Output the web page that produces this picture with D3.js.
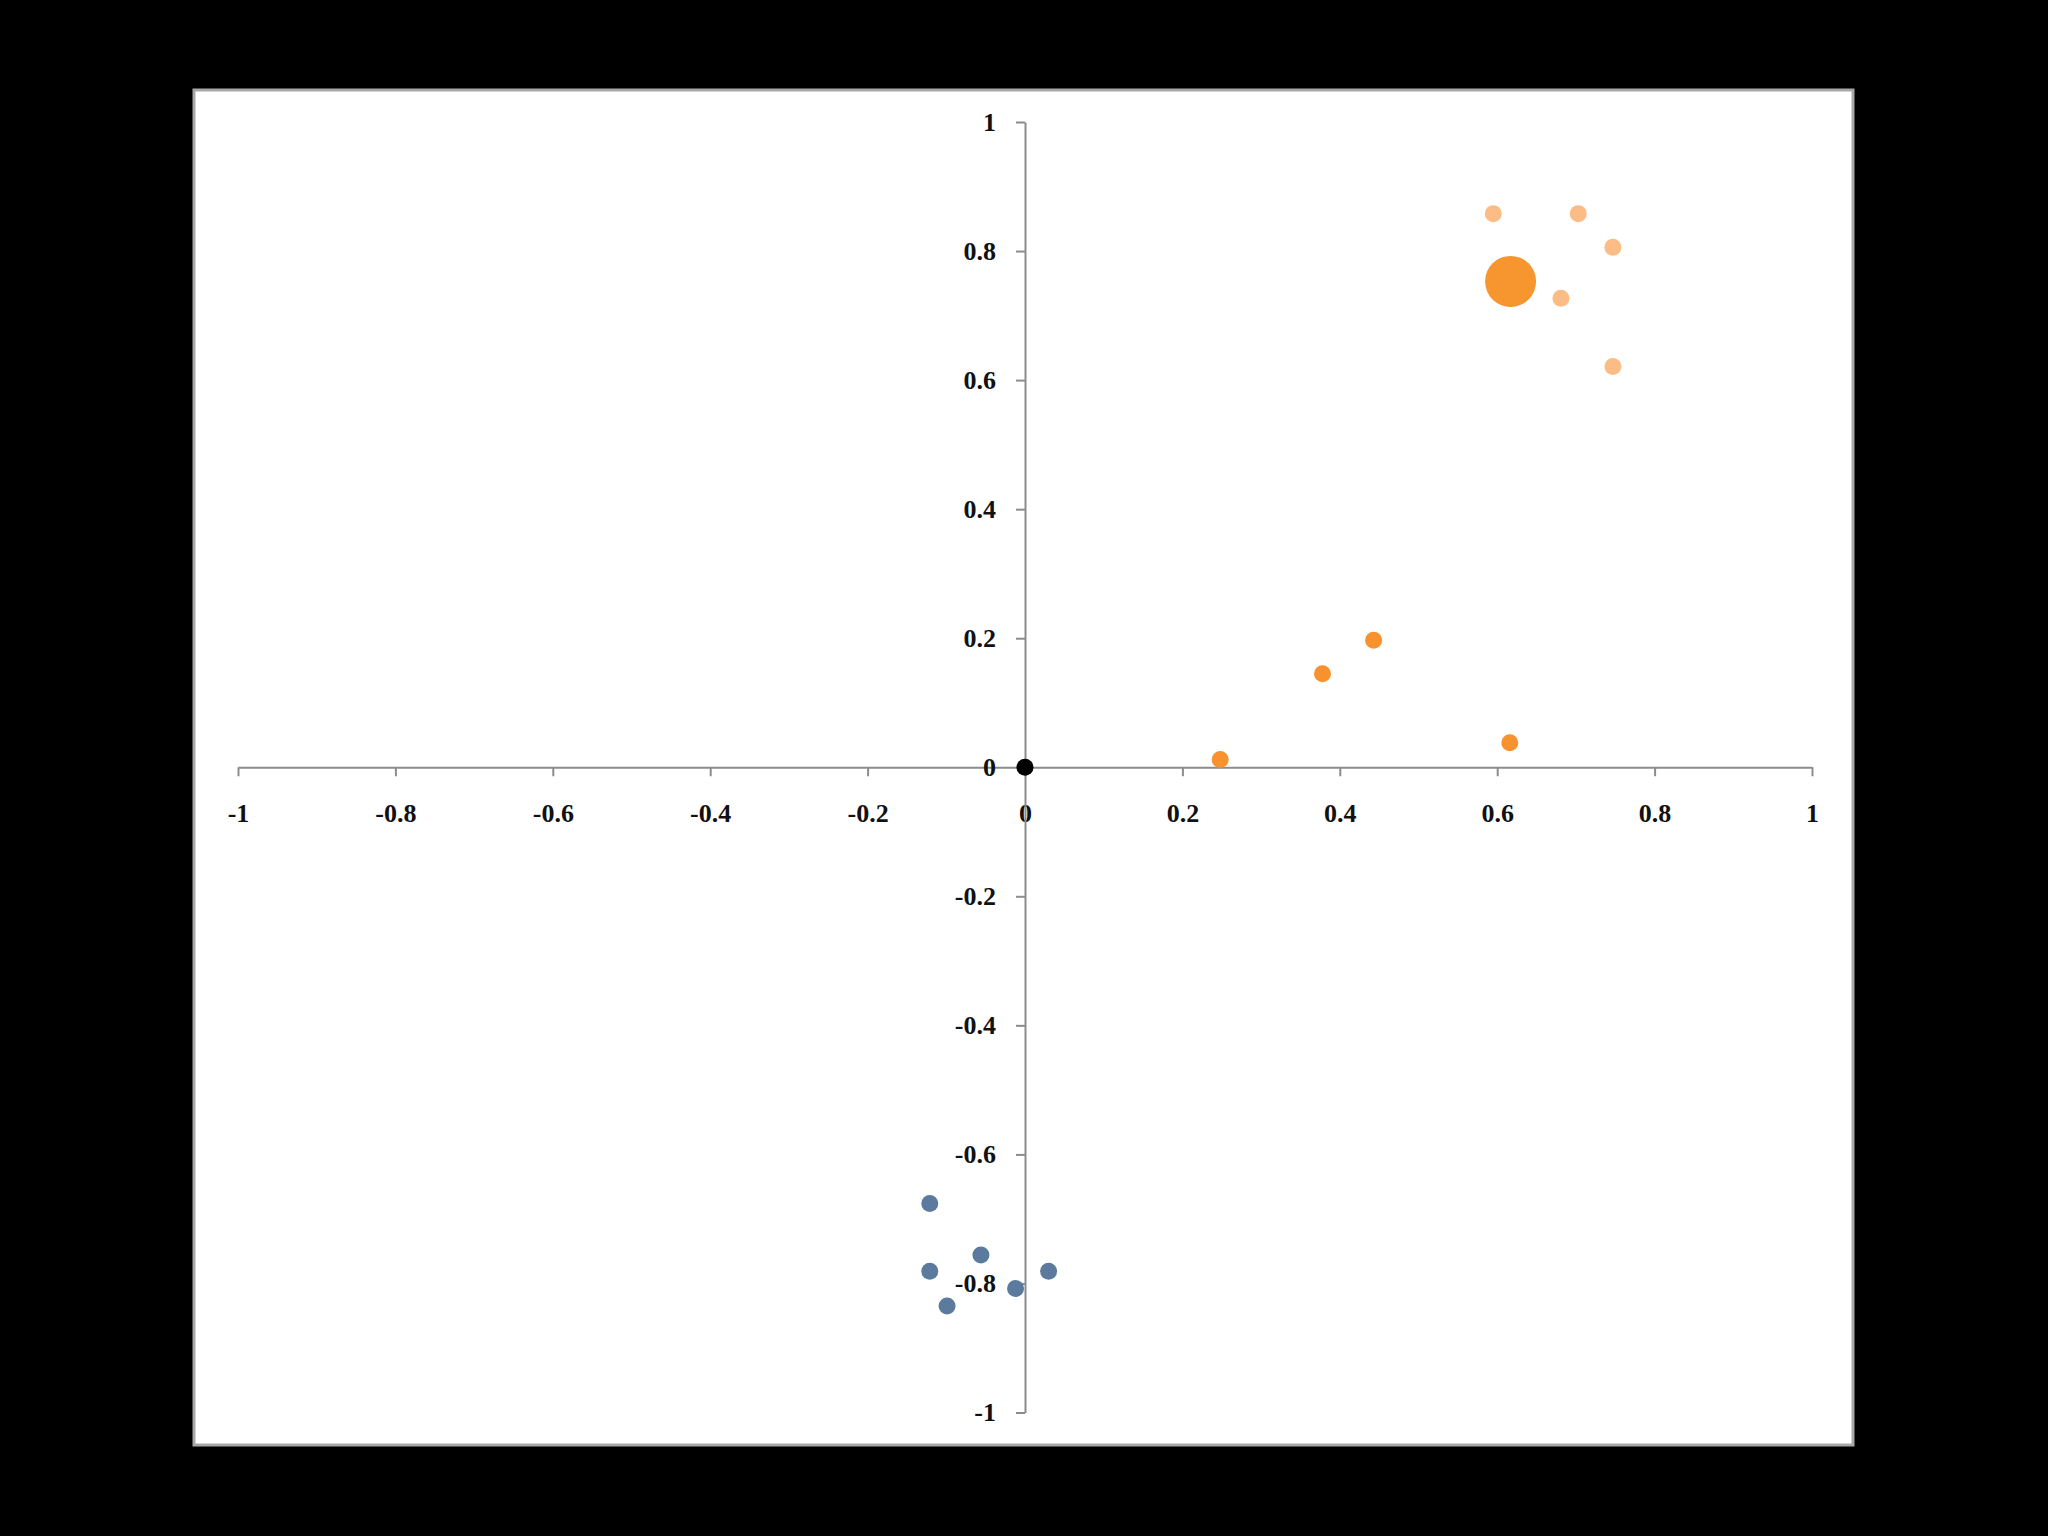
<!DOCTYPE html>
<html><head><meta charset="utf-8">
<script src="https://cdn.jsdelivr.net/npm/d3@7"></script>
<style>html,body{margin:0;padding:0;background:#000;}svg{display:block}</style>
</head><body>
<script>
const xTicks = [-1,-0.8,-0.6,-0.4,-0.2,0,0.2,0.4,0.6,0.8,1];
const yTicks = [-1,-0.8,-0.6,-0.4,-0.2,0,0.2,0.4,0.6,0.8,1];
const lightX = [0.595,0.703,0.747,0.681,0.747];
const lightY = [0.858,0.858,0.806,0.727,0.621];
const bigX = [0.617];
const bigY = [0.753];
const orangeX = [0.248,0.378,0.443,0.616];
const orangeY = [0.012,0.145,0.197,0.038];
const blueX = [-0.121,-0.056,-0.121,0.030,-0.012,-0.099];
const blueY = [-0.676,-0.756,-0.781,-0.781,-0.808,-0.835];
const originX = [0];
const originY = [0];

const W=2048,H=1536;
const svg=d3.select("body").append("svg").attr("width",W).attr("height",H);
svg.append("rect").attr("width",W).attr("height",H).attr("fill","#000");
svg.append("rect").attr("x",194).attr("y",90).attr("width",1659).attr("height",1355)
  .attr("fill","#fff").attr("stroke","#a8a8a8").attr("stroke-width",3);

const x=d3.scaleLinear().domain([-1,1]).range([238,1812]);
const y=d3.scaleLinear().domain([-1,1]).range([1412.5,122]);
const fmt=d=>d===0?"0":String(d);

const xa=svg.append("g").attr("transform",`translate(0,${y(0)})`)
  .call(d3.axisBottom(x).tickValues(xTicks).tickFormat(fmt).tickSizeInner(9).tickSizeOuter(0).tickPadding(27));
const ya=svg.append("g").attr("transform",`translate(${x(0)},0)`)
  .call(d3.axisLeft(y).tickValues(yTicks).tickFormat(fmt).tickSizeInner(9).tickSizeOuter(0).tickPadding(20));
[xa,ya].forEach(a=>{
  a.select(".domain").attr("stroke","#8c8c8c").attr("stroke-width",2);
  a.selectAll(".tick line").attr("stroke","#8c8c8c").attr("stroke-width",2);
  a.selectAll("text").attr("fill","#111")
    .style("font-family","'Liberation Serif','DejaVu Serif',serif")
    .style("font-size","26px").style("font-weight","bold");
});
ya.selectAll(".tick text").attr("dy","0.32em");

function dots(xs,ys,r,color){
  svg.append("g").selectAll("circle").data(xs.map((v,i)=>[v,ys[i]])).join("circle")
    .attr("cx",d=>x(d[0])).attr("cy",d=>y(d[1])).attr("r",r).attr("fill",color);
}
dots(lightX,lightY,8.5,"#fbbd85");
dots(bigX,bigY,25.5,"#f7952f");
dots(orangeX,orangeY,8.5,"#f7922e");
dots(blueX,blueY,8.5,"#5b7a9e");
dots(originX,originY,8.5,"#000");
</script>
</body></html>
